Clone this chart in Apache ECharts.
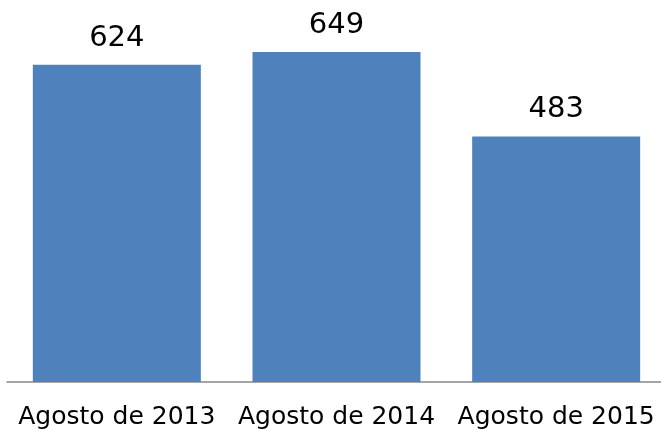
<!DOCTYPE html>
<html>
<head>
<meta charset="utf-8">
<script src="https://cdn.jsdelivr.net/npm/echarts@6/dist/echarts.min.js"></script>
<style>
  html, body { margin: 0; padding: 0; background: #fff; overflow: hidden; }
  #chart { width: 670px; height: 430px; }
</style>
</head>
<body>
<div id="chart"></div>
<script>
var categories = ['Agosto de 2013', 'Agosto de 2014', 'Agosto de 2015'];
var values = [624, 649, 483];

var myChart = echarts.init(document.getElementById('chart'));
myChart.setOption({
  animation: false,
  grid: { left: 7, right: 4, top: 52, bottom: 48, containLabel: false },
  xAxis: {
    type: 'category',
    data: categories,
    axisLine: { lineStyle: { color: '#888888', width: 1.5 } },
    axisTick: { show: false },
    axisLabel: {
      color: '#000',
      fontFamily: 'DejaVu Sans',
      fontSize: 25,
      margin: 23,
      interval: 0
    }
  },
  yAxis: {
    type: 'value',
    min: 0,
    max: 649,
    show: false,
    splitLine: { show: false }
  },
  series: [{
    type: 'bar',
    data: values,
    barWidth: 168,
    itemStyle: { color: '#4F81BD' },
    label: {
      show: true,
      position: 'top',
      distance: 12,
      color: '#000',
      fontFamily: 'DejaVu Sans',
      fontSize: 29
    }
  }]
});
</script>
</body>
</html>
